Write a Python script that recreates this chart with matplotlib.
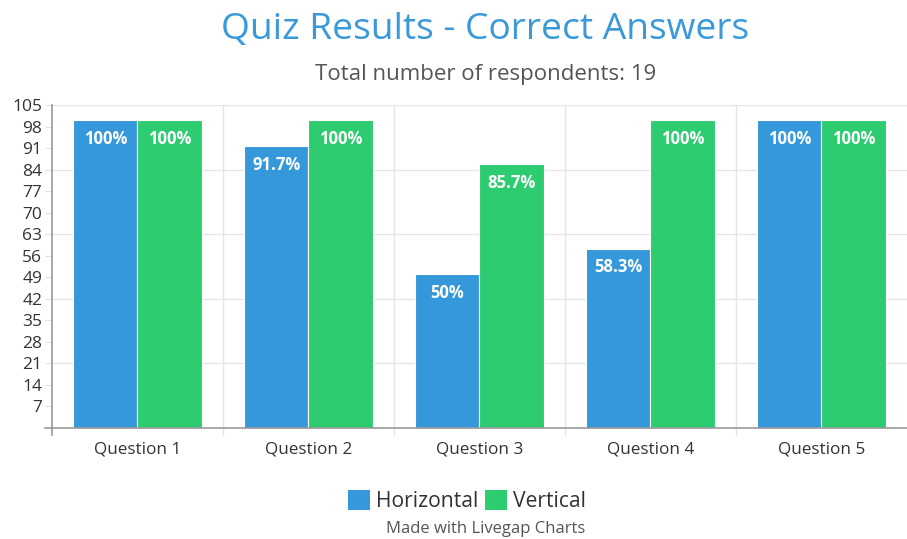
import matplotlib
matplotlib.use("Agg")
import matplotlib.pyplot as plt
from matplotlib.patches import Patch
import numpy as np

plt.rcParams["font.family"] = ["Open Sans", "DejaVu Sans"]

categories = ["Question 1", "Question 2", "Question 3", "Question 4", "Question 5"]
horizontal = [100, 91.7, 50, 58.3, 100]
vertical = [100, 100, 85.7, 100, 100]
y_ticks = [7, 14, 21, 28, 35, 42, 49, 56, 63, 70, 77, 84, 91, 98, 105]

blue = "#3498db"
green = "#2ecc71"

fig = plt.figure(figsize=(9.07, 5.39), dpi=100)
ax = fig.add_axes([0.0573, 0.2059, 0.9427, 0.5993])

x = np.arange(len(categories))
w = 0.375
b1 = ax.bar(x - w / 2, horizontal, w, color=blue, edgecolor="white", linewidth=0.8)
b2 = ax.bar(x + w / 2, vertical, w, color=green, edgecolor="white", linewidth=0.8)

for bars, vals in ((b1, horizontal), (b2, vertical)):
    for bar, v in zip(bars, vals):
        txt = f"{v:g}%"
        ax.annotate(txt, (bar.get_x() + bar.get_width() / 2, v), xytext=(0, -13.5),
                    textcoords="offset points", ha="center", va="center",
                    color="white", fontsize=12, fontweight="bold")

ax.set_xlim(-0.5, len(categories) - 0.5)
ax.set_ylim(0, 105)
ax.set_xticks(x)
ax.set_xticklabels(categories, fontsize=12.3, color="#333333")
ax.set_yticks(y_ticks)
ax.set_yticklabels([str(t) for t in y_ticks], fontsize=12.5, color="#333333")
ax.tick_params(axis="y", length=5, color="#e0e0e0", pad=2)
ax.tick_params(axis="x", length=0, pad=10)

for s in ax.spines.values():
    s.set_visible(False)

# horizontal grid every 21
for yv in y_ticks[2::3]:
    ax.axhline(yv, color="#e6e6e6", linewidth=1, zorder=0)
# vertical grid at category boundaries
for xv in np.arange(0.5, len(categories) - 0.5, 1):
    ax.plot([xv, xv], [-2.2, 105], color="#e6e6e6", linewidth=1, zorder=0, clip_on=False)

# axis lines
ax.plot([-0.5, -0.5], [-2.2, 105], color="#999999", linewidth=1.2, clip_on=False, zorder=3)
ax.plot([-0.54, len(categories) - 0.5], [0, 0], color="#999999", linewidth=1.2, clip_on=False, zorder=3)

fig.text(0.535, 0.945, "Quiz Results - Correct Answers", ha="center", va="center",
         fontsize=26.7, color="#3a9ad9")
fig.text(0.535, 0.862, "Total number of respondents: 19", ha="center", va="center",
         fontsize=16, color="#555555")

handles = [Patch(facecolor=blue, label="Horizontal"), Patch(facecolor=green, label="Vertical")]
fig.legend(handles=handles, loc="center", bbox_to_anchor=(0.515, 0.07), ncol=2, frameon=False,
           fontsize=15.2, handlelength=1.05, handleheight=1.05, handletextpad=0.3, columnspacing=0.3,
           labelcolor="#333333")
fig.text(0.535, 0.019, "Made with Livegap Charts", ha="center", va="center",
         fontsize=12, color="#555555")

fig.savefig("out.png", dpi=100)
